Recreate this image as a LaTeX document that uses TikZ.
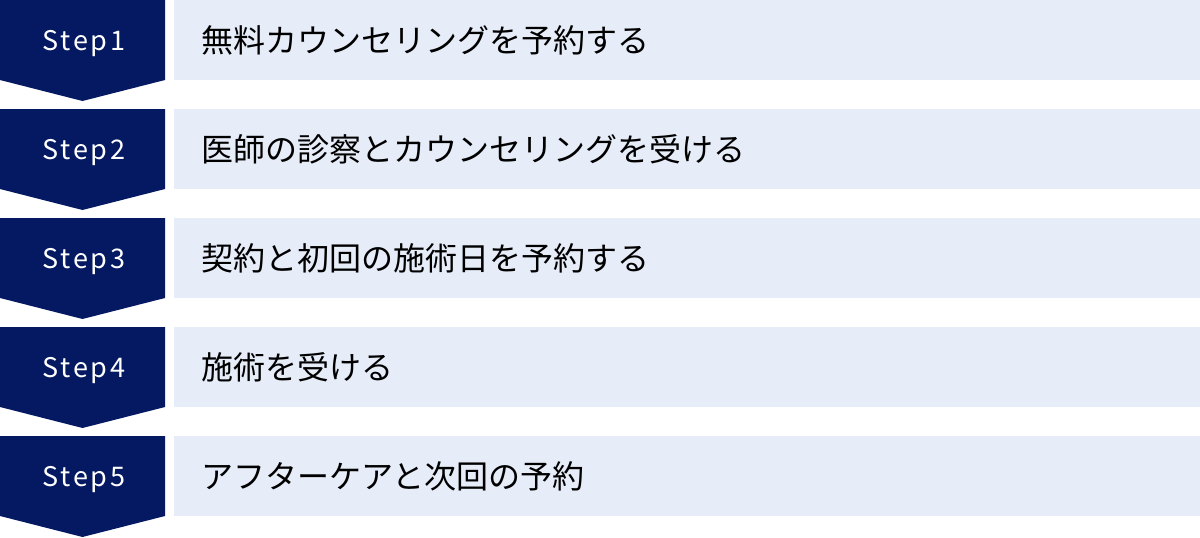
\documentclass[tikz,border=0pt]{standalone}
\usepackage{fontspec}
\setmainfont{Noto Sans CJK JP}
\newfontfamily\stepfont[LetterSpace=10]{Noto Sans CJK JP}
\definecolor{stepnavy}{HTML}{041962}
\definecolor{steplight}{HTML}{E6ECF8}
\tikzset{
  stepmark/.style={fill=stepnavy, draw=none},
  steptext/.style={anchor=base, text=white, inner sep=0pt, font=\stepfont\fontsize{27}{30}\selectfont},
  rowbox/.style={fill=steplight, draw=none},
  rowtext/.style={anchor=west, inner sep=0pt, text=black, font=\fontsize{32}{38}\selectfont},
}
\begin{document}
\begin{tikzpicture}[x=1pt,y=-1pt]%
  \useasboundingbox (0,0) rectangle (1200,538);
  \pgfmathsetmacro{\rowpitch}{109}
  \pgfmathsetmacro{\markw}{165}
  \pgfmathsetmacro{\boxh}{80}
  % One row per step: chevron on the left, band with the task on the right.
  \foreach \n/\txt in {1/無料カウンセリングを予約する,
                       2/医師の診察とカウンセリングを受ける,
                       3/契約と初回の施術日を予約する,
                       4/施術を受ける,
                       5/アフターケアと次回の予約}{
    \pgfmathsetmacro{\y}{(\n-1)*\rowpitch}
    \fill[stepmark] (0,\y) -- (\markw,\y) -- (\markw,\y+\boxh) -- (0.5*\markw,\y+\boxh+21) -- (0,\y+\boxh) -- cycle;
    \fill[rowbox] (174,\y) rectangle (1200,\y+\boxh);
    \node[steptext] (step\n) at (0.5*\markw+1.5,\y+0.5*\boxh+10) {Step\n};
    \node[rowtext] (task\n) at (201,\y+0.5*\boxh) {\txt};
  }
\end{tikzpicture}
\end{document}
